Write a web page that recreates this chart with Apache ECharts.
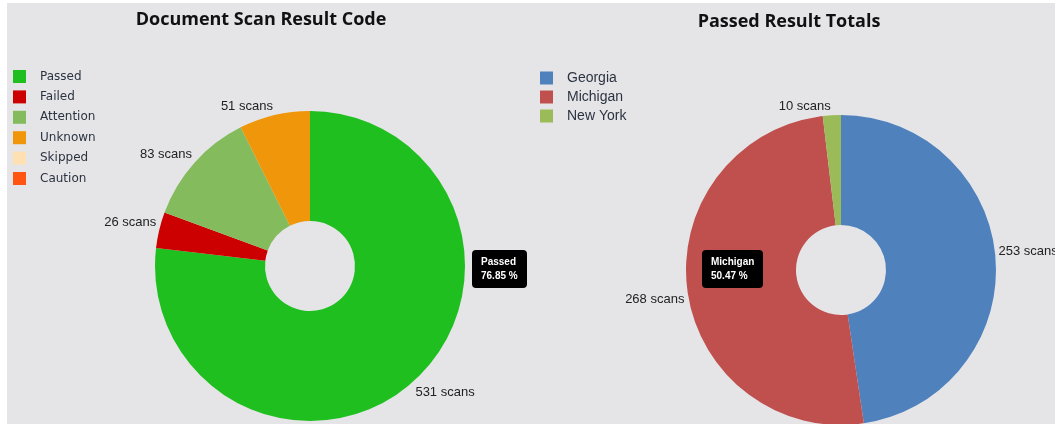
<!DOCTYPE html>
<html>
<head>
<meta charset="utf-8">
<script src="https://cdn.jsdelivr.net/npm/echarts@6/dist/echarts.min.js"></script>
<style>
  html, body { margin: 0; padding: 0; background: #fff; }
  #panel { position: absolute; left: 7px; top: 3px; width: 1048px; height: 421px; background: #e5e5e8; }
  #left { position: absolute; left: 0; top: 0; width: 520px; height: 421px; }
  #right { position: absolute; left: 520px; top: 0; width: 528px; height: 421px; }
</style>
</head>
<body>
<div id="panel">
  <div id="left"></div>
  <div id="right"></div>
</div>
<script>
// left chart data
const scanCodes = ['Passed', 'Failed', 'Attention', 'Unknown', 'Skipped', 'Caution'];
const scanCounts = [531, 26, 83, 51, 0, 0];
const scanColors = ['#1fbf1f', '#cc0000', '#84bb5c', '#f0960a', '#ffe0b3', '#ff5511'];

// right chart data
const states = ['Georgia', 'Michigan', 'New York'];
const passedCounts = [253, 268, 10];
const stateColors = ['#4f81bd', '#c0504d', '#9bbb59'];

const labelFont = '"Liberation Sans", Arial, sans-serif';

// labels sit above the anchor point on the top half and below it on the bottom half
function buildData(names, values) {
  const total = values.reduce((a, b) => a + b, 0);
  let acc = 0;
  return names.map((name, i) => {
    const mid = (acc + values[i] / 2) / total * Math.PI * 2;
    acc += values[i];
    const up = Math.cos(mid) > 0;
    const left = Math.sin(mid) < 0;
    return {
      name: name,
      value: values[i],
      label: { show: values[i] > 0, offset: [left ? 4 : -4, up ? -7 : 9] },
    };
  });
}

function tipFormatter(p) {
  return '<div style="font-weight:bold;line-height:14px">' + p.name + '</div>' +
    '<div style="font-weight:bold;line-height:14px">' + p.percent.toFixed(2) + ' %</div>';
}

function makeOption(cfg) {
  return {
    animation: false,
    title: {
      text: cfg.title,
      left: cfg.titleX,
      top: cfg.titleY,
      textAlign: 'center',
      textStyle: { fontFamily: '"Open Sans", sans-serif', fontSize: 18, fontWeight: 'bold', color: '#111' },
    },
    tooltip: {
      trigger: 'item',
      triggerOn: 'none',
      alwaysShowContent: true,
      position: cfg.tipPos,
      backgroundColor: '#000',
      borderWidth: 0,
      padding: [5, 9],
      textStyle: { color: '#fff', fontSize: 10, fontFamily: '"Liberation Sans", Arial, sans-serif' },
      extraCssText: 'border-radius:4px;box-shadow:none;',
      transitionDuration: 0,
      formatter: tipFormatter,
    },
    legend: {
      orient: 'vertical',
      left: cfg.legendX,
      top: cfg.legendY,
      padding: 0,
      icon: 'rect',
      itemWidth: 13,
      itemHeight: 13,
      itemGap: cfg.legendGap,
      selectedMode: false,
      textStyle: { fontFamily: cfg.legendFont, fontSize: cfg.legendSize, color: '#2b3340', padding: [0, 0, 0, 9] },
    },
    series: [
      {
        type: 'pie',
        center: cfg.center,
        radius: [45, 155],
        startAngle: 90,
        clockwise: true,
        color: cfg.colors,
        emphasis: { scale: false },
        label: {
          position: 'outside',
          formatter: '{c} scans',
          fontFamily: labelFont,
          fontSize: 13,
          color: '#222',
          overflow: 'none',
        },
        labelLine: { show: false, length: 2, length2: 0 },
        data: buildData(cfg.names, cfg.values),
      },
    ],
  };
}

const leftChart = echarts.init(document.getElementById('left'));
leftChart.setOption(makeOption({
  title: 'Document Scan Result Code',
  titleX: 249, titleY: 3,
  tipPos: [465, 247],
  legendX: 6, legendY: 67, legendGap: 7.4,
  legendFont: '"DejaVu Sans", sans-serif', legendSize: 12,
  center: [303, 263],
  colors: scanColors,
  names: scanCodes, values: scanCounts,
}));
leftChart.dispatchAction({ type: 'showTip', seriesIndex: 0, dataIndex: 0 });

const rightChart = echarts.init(document.getElementById('right'));
rightChart.setOption(makeOption({
  title: 'Passed Result Totals',
  titleX: 257, titleY: 5,
  tipPos: [175, 247],
  legendX: 13, legendY: 68, legendGap: 5,
  legendFont: '"Liberation Sans", Arial, sans-serif', legendSize: 14,
  center: [314, 267],
  colors: stateColors,
  names: states, values: passedCounts,
}));
rightChart.dispatchAction({ type: 'showTip', seriesIndex: 0, dataIndex: 1 });
</script>
</body>
</html>
